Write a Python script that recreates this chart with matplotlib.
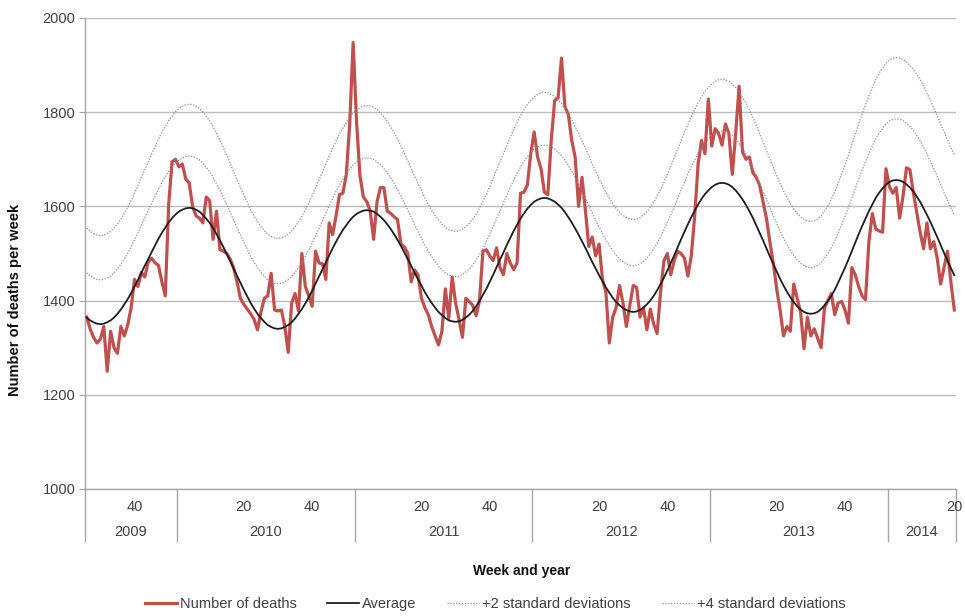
import matplotlib
matplotlib.use("Agg")
import matplotlib.pyplot as plt
import numpy as np
from matplotlib.transforms import blended_transform_factory

plt.rcParams["font.family"] = ["Liberation Sans", "DejaVu Sans"]

# Weekly series, 2009 week 26 to 2014 week 20
years = ["2009", "2010", "2011", "2012", "2013", "2014"]
first_week = [26, 1, 1, 1, 1, 1]
weeks_shown = [27, 52, 52, 52, 52, 20]
week_tick_labels = [("2009", 40), ("2010", 20), ("2010", 40), ("2011", 20), ("2011", 40),
                    ("2012", 20), ("2012", 40), ("2013", 20), ("2013", 40), ("2014", 20)]

deaths = [
    1365, 1340, 1322, 1310, 1318, 1345, 1250, 1335, 1300, 1288,
    1345, 1325, 1348, 1385, 1445, 1430, 1460, 1450, 1482, 1490,
    1480, 1475, 1440, 1410, 1605, 1695, 1700, 1684, 1690, 1658,
    1650, 1600, 1580, 1575, 1565, 1620, 1612, 1530, 1590, 1508,
    1505, 1500, 1488, 1470, 1440, 1405, 1392, 1382, 1372, 1360,
    1338, 1375, 1405, 1410, 1458, 1380, 1378, 1380, 1345, 1290,
    1395, 1415, 1378, 1500, 1430, 1410, 1388, 1505, 1480, 1478,
    1445, 1565, 1540, 1580, 1625, 1628, 1668, 1775, 1948, 1780,
    1665, 1620, 1610, 1590, 1530, 1610, 1640, 1640, 1590, 1585,
    1578, 1572, 1520, 1514, 1500, 1440, 1465, 1455, 1405, 1385,
    1370, 1345, 1325, 1306, 1335, 1425, 1362, 1450, 1395, 1360,
    1322, 1405, 1398, 1390, 1368, 1400, 1505, 1508, 1495, 1485,
    1512, 1470, 1455, 1500, 1480, 1466, 1480, 1628, 1630, 1645,
    1712, 1758, 1705, 1680, 1630, 1625, 1740, 1825, 1830, 1915,
    1812, 1795, 1740, 1705, 1600, 1662, 1592, 1515, 1535, 1495,
    1520, 1445, 1418, 1310, 1365, 1385, 1432, 1395, 1345, 1390,
    1432, 1428, 1365, 1385, 1338, 1382, 1350, 1330, 1418, 1485,
    1500, 1455, 1485, 1505, 1500, 1490, 1452, 1495, 1580, 1690,
    1740, 1712, 1828, 1728, 1765, 1755, 1730, 1775, 1755, 1668,
    1755, 1855, 1715, 1700, 1705, 1672, 1662, 1645, 1610, 1575,
    1525, 1480, 1425, 1380, 1325, 1345, 1335, 1435, 1405, 1375,
    1298, 1365, 1325, 1340, 1320, 1300, 1385, 1400, 1415, 1370,
    1395, 1398, 1380, 1352, 1470, 1455, 1430, 1410, 1402, 1525,
    1585, 1552, 1548, 1545, 1680, 1642, 1628, 1640, 1575, 1622,
    1682, 1678, 1630, 1588, 1545, 1510, 1565, 1510, 1525, 1490,
    1435, 1470, 1505, 1440, 1380,
]

average = [
    1364, 1358, 1354, 1351, 1350,
    1351, 1354, 1358, 1364, 1372, 1381, 1392, 1403, 1416, 1430, 1444, 1459, 1474,
    1488, 1503, 1517, 1531, 1544, 1555, 1566, 1575, 1583, 1589, 1593, 1596, 1597,
    1596, 1593, 1589, 1582, 1574, 1565, 1554, 1541, 1528, 1514, 1499, 1484, 1468,
    1453, 1438, 1423, 1409, 1395, 1383, 1372, 1363, 1355, 1348, 1344, 1341, 1340,
    1341, 1344, 1348, 1354, 1362, 1372, 1382, 1394, 1407, 1421, 1436, 1451, 1466,
    1481, 1496, 1511, 1525, 1538, 1550, 1560, 1570, 1578, 1584, 1588, 1591, 1592,
    1591, 1589, 1584, 1578, 1571, 1562, 1552, 1541, 1529, 1516, 1502, 1488, 1474,
    1459, 1445, 1432, 1418, 1406, 1395, 1385, 1376, 1369, 1363, 1358, 1356, 1355,
    1356, 1359, 1364, 1370, 1378, 1388, 1399, 1412, 1425, 1440, 1455, 1471, 1487,
    1502, 1518, 1533, 1548, 1561, 1574, 1585, 1595, 1603, 1610, 1614, 1617, 1618,
    1617, 1614, 1610, 1604, 1597, 1588, 1577, 1566, 1553, 1540, 1526, 1512, 1497,
    1482, 1468, 1454, 1441, 1428, 1417, 1406, 1397, 1390, 1384, 1380, 1377, 1376,
    1377, 1380, 1385, 1392, 1400, 1410, 1422, 1435, 1449, 1464, 1480, 1496, 1513,
    1530, 1546, 1562, 1577, 1591, 1604, 1616, 1626, 1634, 1641, 1646, 1649, 1650,
    1649, 1646, 1641, 1634, 1625, 1615, 1603, 1590, 1576, 1560, 1544, 1528, 1511,
    1494, 1478, 1462, 1446, 1432, 1419, 1407, 1397, 1388, 1381, 1376, 1373, 1372,
    1373, 1376, 1382, 1390, 1399, 1410, 1423, 1438, 1454, 1470, 1487, 1505, 1523,
    1541, 1558, 1574, 1590, 1604, 1618, 1629, 1638, 1646, 1652, 1655, 1656,
    1655, 1652, 1647, 1640, 1632, 1621, 1610, 1596, 1582, 1567, 1551, 1535, 1518,
    1501, 1485, 1469, 1454,
]

std_dev = [
    47.5, 47.3, 47.1, 47.0, 47.0,
    47.0, 47.1, 47.3, 47.5, 47.7, 48.0, 48.3, 48.7, 49.1, 49.6, 50.0, 50.5, 51.0,
    51.5, 52.0, 52.4, 52.9, 53.3, 53.7, 54.0, 54.3, 54.5, 54.7, 54.9, 55.0, 55.0,
    55.0, 54.9, 54.8, 54.6, 54.4, 54.1, 53.8, 53.5, 53.1, 52.7, 52.3, 51.9, 51.5,
    51.1, 50.7, 50.3, 49.9, 49.5, 49.2, 48.9, 48.6, 48.4, 48.2, 48.1, 48.0, 48.0,
    48.0, 48.1, 48.2, 48.4, 48.7, 48.9, 49.3, 49.6, 50.0, 50.4, 50.9, 51.3, 51.8,
    52.2, 52.6, 53.1, 53.5, 53.9, 54.2, 54.6, 54.8, 55.1, 55.3, 55.4, 55.5, 55.5,
    55.5, 55.4, 55.3, 55.1, 54.8, 54.6, 54.2, 53.9, 53.5, 53.1, 52.6, 52.2, 51.8,
    51.3, 50.9, 50.4, 50.0, 49.6, 49.3, 48.9, 48.7, 48.4, 48.2, 48.1, 48.0, 48.0,
    48.0, 48.1, 48.3, 48.5, 48.7, 49.0, 49.3, 49.7, 50.1, 50.6, 51.0, 51.5, 52.0,
    52.5, 53.0, 53.4, 53.9, 54.3, 54.7, 55.0, 55.3, 55.5, 55.7, 55.9, 56.0, 56.0,
    56.0, 55.9, 55.8, 55.6, 55.4, 55.1, 54.8, 54.5, 54.1, 53.7, 53.3, 52.9, 52.5,
    52.1, 51.7, 51.3, 50.9, 50.5, 50.2, 49.9, 49.6, 49.4, 49.2, 49.1, 49.0, 49.0,
    49.0, 49.1, 49.2, 49.3, 49.5, 49.8, 50.0, 50.3, 50.6, 50.9, 51.3, 51.6, 52.0,
    52.4, 52.7, 53.1, 53.4, 53.7, 54.0, 54.2, 54.5, 54.7, 54.8, 54.9, 55.0, 55.0,
    55.0, 54.9, 54.8, 54.7, 54.5, 54.2, 54.0, 53.7, 53.4, 53.1, 52.7, 52.4, 52.0,
    51.6, 51.3, 50.9, 50.6, 50.3, 50.0, 49.8, 49.5, 49.3, 49.2, 49.1, 49.0, 49.0,
    49.1, 49.3, 49.6, 50.0, 50.5, 51.2, 51.9, 52.7, 53.6, 54.5, 55.5, 56.5, 57.5,
    58.5, 59.5, 60.4, 61.3, 62.1, 62.8, 63.5, 64.0, 64.4, 64.7, 64.9, 65.0,
    65.0, 65.0, 65.0, 64.9, 64.9, 64.8, 64.8, 64.7, 64.6, 64.6, 64.5, 64.4, 64.3,
    64.3, 64.2, 64.1, 64.0,
]

assert len(deaths) == len(average) == len(std_dev) == sum(weeks_shown)

avg = np.array(average, dtype=float)
sd = np.array(std_dev, dtype=float)
x = np.arange(len(deaths))

W, H = 965, 616
fig = plt.figure(figsize=(W / 100, H / 100), dpi=100)
left, right, top, bottom = 85, 956, 18, 489
ax = fig.add_axes([left / W, 1 - bottom / H, (right - left) / W, (bottom - top) / H])

grid_c = "#bdbdbd"
axis_c = "#a6a6a6"
text_c = "#404040"
fs = 10.5

l1, = ax.plot(x, deaths, color="#c0504d", lw=2.3, zorder=3, solid_joinstyle="round")
l2, = ax.plot(x, avg, color="#1e1e1e", lw=1.3, zorder=4)
l3, = ax.plot(x, avg + 2 * sd, color="#8c8c8c", lw=0.9, ls=(0, (1, 1.3)), zorder=5)
l4, = ax.plot(x, avg + 4 * sd, color="#8c8c8c", lw=0.9, ls=(0, (1, 1.3)), zorder=5)

ax.set_xlim(-0.5, len(deaths) - 0.5)
ax.set_ylim(1000, 2000)
ax.set_yticks(np.arange(1000, 2001, 200))
ax.yaxis.grid(True, color=grid_c, lw=1)
ax.set_axisbelow(True)
for s in ("top", "right"):
    ax.spines[s].set_visible(False)
for s in ("left", "bottom"):
    ax.spines[s].set_color(axis_c)
    ax.spines[s].set_linewidth(1)
ax.tick_params(axis="y", length=4, color=axis_c, labelsize=fs, labelcolor=text_c, pad=3)
ax.set_xticks([])

# Two-level category axis: week numbers above, years below, separators at year ends
tr = blended_transform_factory(ax.transData, ax.transAxes)
starts = np.concatenate([[0], np.cumsum(weeks_shown)])
bounds = starts - 0.5
for b in bounds:
    ax.plot([b, b], [0, -0.110], transform=tr, clip_on=False, color=axis_c, lw=1)
for k, yr in enumerate(years):
    ax.text((bounds[k] + bounds[k + 1]) / 2, -0.091, yr, transform=tr,
            ha="center", va="center", fontsize=fs, color=text_c)
for yr, wk in week_tick_labels:
    k = years.index(yr)
    pos = starts[k] + (wk - first_week[k])
    ax.text(pos, -0.039, str(wk), transform=tr, ha="center", va="center",
            fontsize=fs, color=text_c)

fig.text(15 / W, 1 - 300 / H, "Number of deaths per week", rotation=90,
         ha="center", va="center", fontsize=10.5, fontweight="bold", color="#111111")
fig.text(522 / W, 1 - 571 / H, "Week and year", ha="center", va="center",
         fontsize=10, fontweight="bold", color="#111111")

fig.legend([l1, l2, l3, l4],
           ["Number of deaths", "Average", "+2 standard deviations", "+4 standard deviations"],
           loc="center", bbox_to_anchor=(495 / W, 1 - 604 / H), ncol=4, frameon=False,
           handlelength=2.2, handletextpad=0.2, columnspacing=2.1, fontsize=fs,
           labelcolor=text_c)

fig.savefig("out.png", dpi=100)
